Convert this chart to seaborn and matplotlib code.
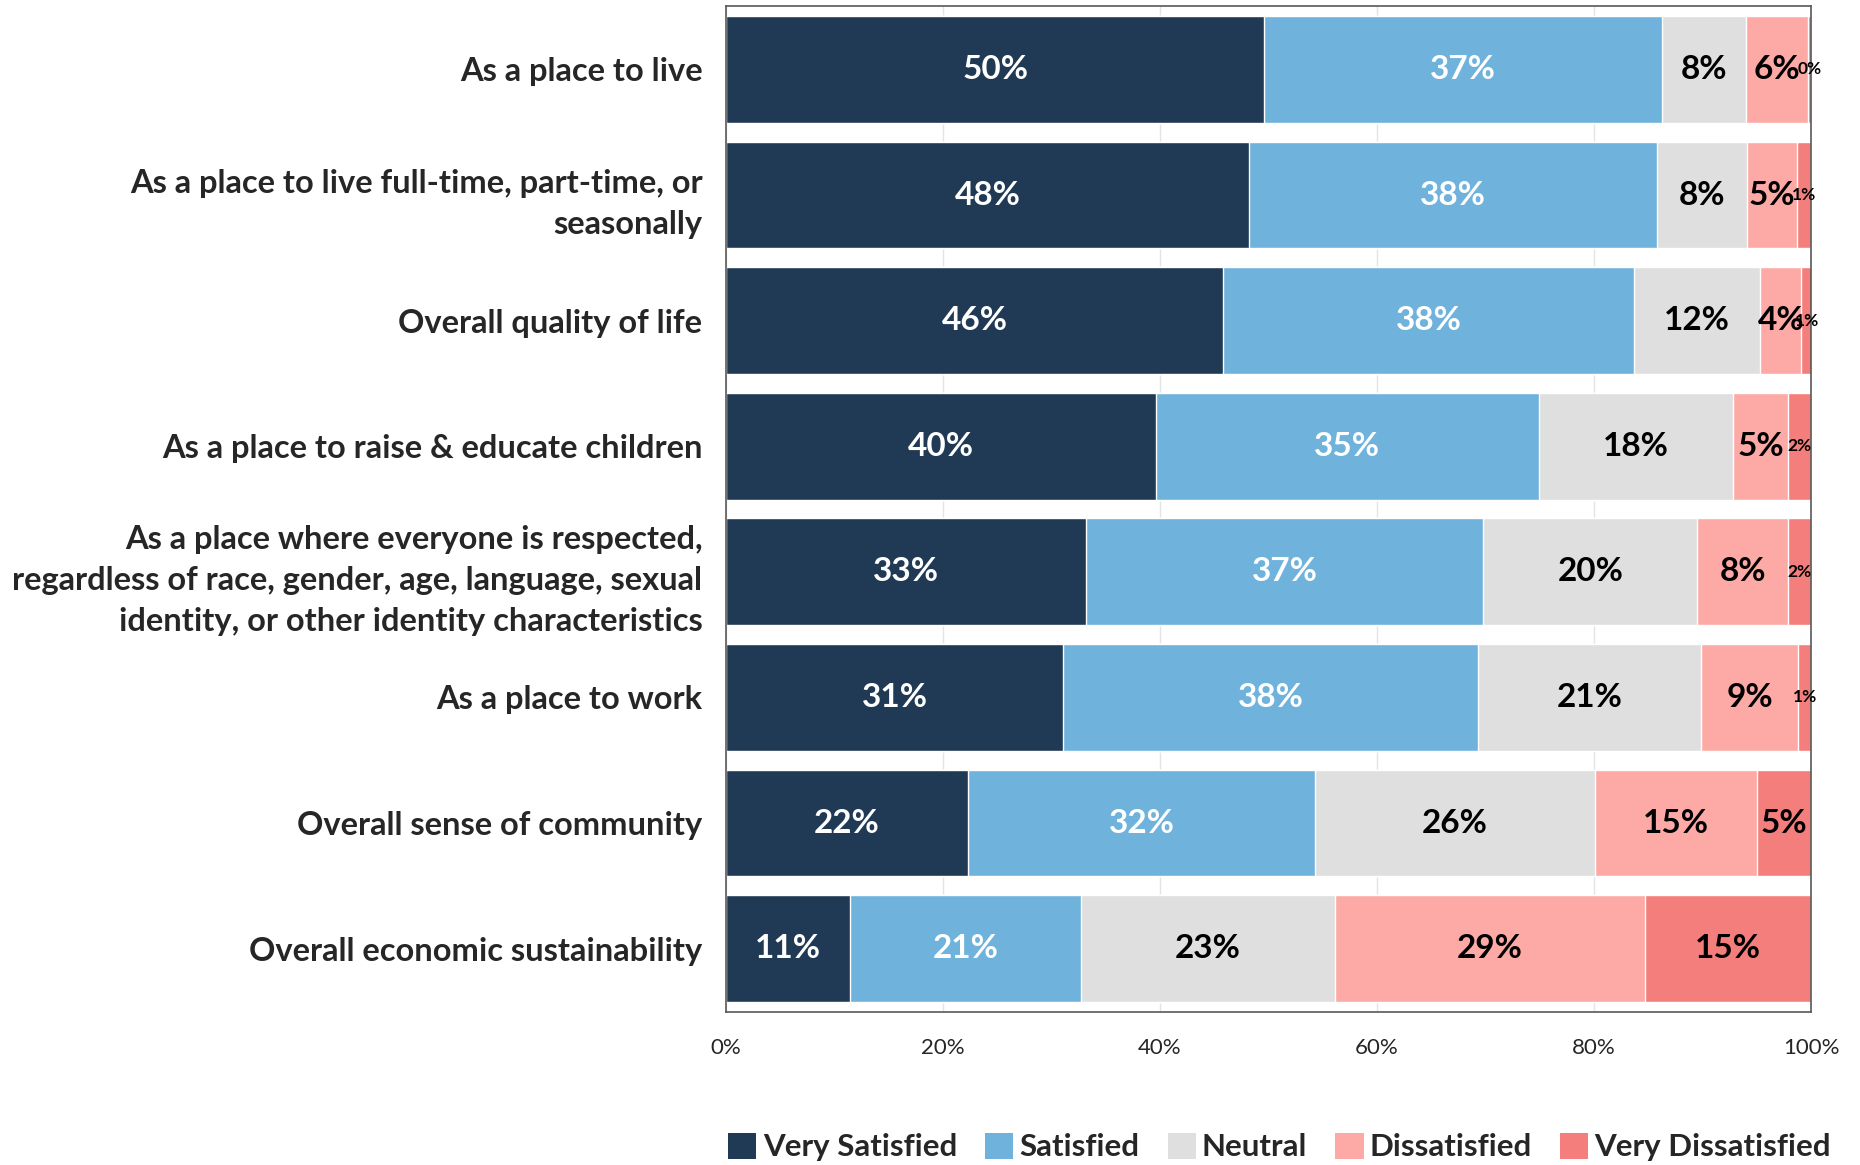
import matplotlib
matplotlib.use("Agg")
import matplotlib.pyplot as plt
from matplotlib.patches import Patch
import numpy as np
import pandas as pd
import seaborn as sns

# Survey items (top to bottom)
categories = [
    "As a place to live",
    "As a place to live full-time, part-time, or\nseasonally",
    "Overall quality of life",
    "As a place to raise & educate children",
    "As a place where everyone is respected,\nregardless of race, gender, age, language, sexual\nidentity, or other identity characteristics",
    "As a place to work",
    "Overall sense of community",
    "Overall economic sustainability",
]

levels = ["Very Satisfied", "Satisfied", "Neutral", "Dissatisfied", "Very Dissatisfied"]

very_satisfied    = [49.6, 48.2, 45.8, 39.6, 33.2, 31.1, 22.3, 11.4]
satisfied         = [36.7, 37.6, 37.9, 35.3, 36.6, 38.2, 32.0, 21.3]
neutral           = [7.7, 8.3, 11.6, 17.9, 19.7, 20.6, 25.8, 23.4]
dissatisfied      = [5.7, 4.6, 3.8, 5.1, 8.4, 8.9, 14.9, 28.6]
very_dissatisfied = [0.3, 1.3, 1.0, 2.1, 2.1, 1.2, 5.0, 15.3]

colors = ["#203A55", "#6FB3DD", "#DFDFDF", "#FDAAA6", "#F47E7B"]
text_colors = ["white", "white", "black", "black", "black"]

series = [very_satisfied, satisfied, neutral, dissatisfied, very_dissatisfied]

sns.set_theme(style="white")
plt.rcParams["font.family"] = ["Lato", "DejaVu Sans"]

df = pd.DataFrame({"category": categories})
for name, vals in zip(levels, series):
    df[name] = vals
cum = df[levels].cumsum(axis=1)
for name in levels:
    df[name + "_cum"] = cum[name]

fig = plt.figure(figsize=(18.6, 11.65), dpi=100)
ax = fig.add_axes([0.3903, 0.1313, 0.9737 - 0.3903, 0.99485 - 0.1313])

# Stacked bars: draw cumulative totals from the outermost layer inward
for name, col in reversed(list(zip(levels, colors))):
    sns.barplot(data=df, x=name + "_cum", y="category", orient="h",
                color=col, saturation=1, width=0.85, errorbar=None,
                ax=ax, zorder=2)

# Segment labels
for i in range(len(categories)):
    for name, tcol in zip(levels, text_colors):
        v = df.loc[i, name]
        center = df.loc[i, name + "_cum"] - v / 2
        small = v < 3
        ax.text(center, i, f"{v:.0f}%", ha="center", va="center",
                color=tcol, fontsize=12.5 if small else 24,
                fontweight="bold", zorder=5)

ax.set_xlim(0, 100)
ax.set_ylim(len(categories) - 0.5 + 0.005, -0.505)
ax.set_xticks(np.arange(0, 101, 20))
ax.set_xticklabels([f"{t}%" for t in range(0, 101, 20)], fontsize=16)
ax.set_xlabel("")
ax.set_ylabel("")
ax.tick_params(axis="x", length=0, pad=19)
ax.tick_params(axis="y", length=0, pad=17)
for lab in ax.get_yticklabels():
    lab.set_fontsize(23.5)
    lab.set_fontweight("bold")
    lab.set_linespacing(1.5)
    lab.set_multialignment("right")

ax.xaxis.grid(True, color="#E4E4E4", linewidth=1)
ax.set_axisbelow(True)
for sp in ax.spines.values():
    sp.set_visible(True)
    sp.set_color("#595959")
    sp.set_linewidth(1.2)

handles = [Patch(facecolor=c, edgecolor="none", label=l) for l, c in zip(levels, colors)]
fig.legend(handles=handles, loc="lower center", bbox_to_anchor=(0.688, -0.021),
           ncol=5, frameon=False, prop={"size": 22.5, "weight": "bold"},
           handlelength=0.9, handleheight=0.9, handletextpad=0.2,
           columnspacing=0.9)

fig.savefig("out.png", dpi=100)
